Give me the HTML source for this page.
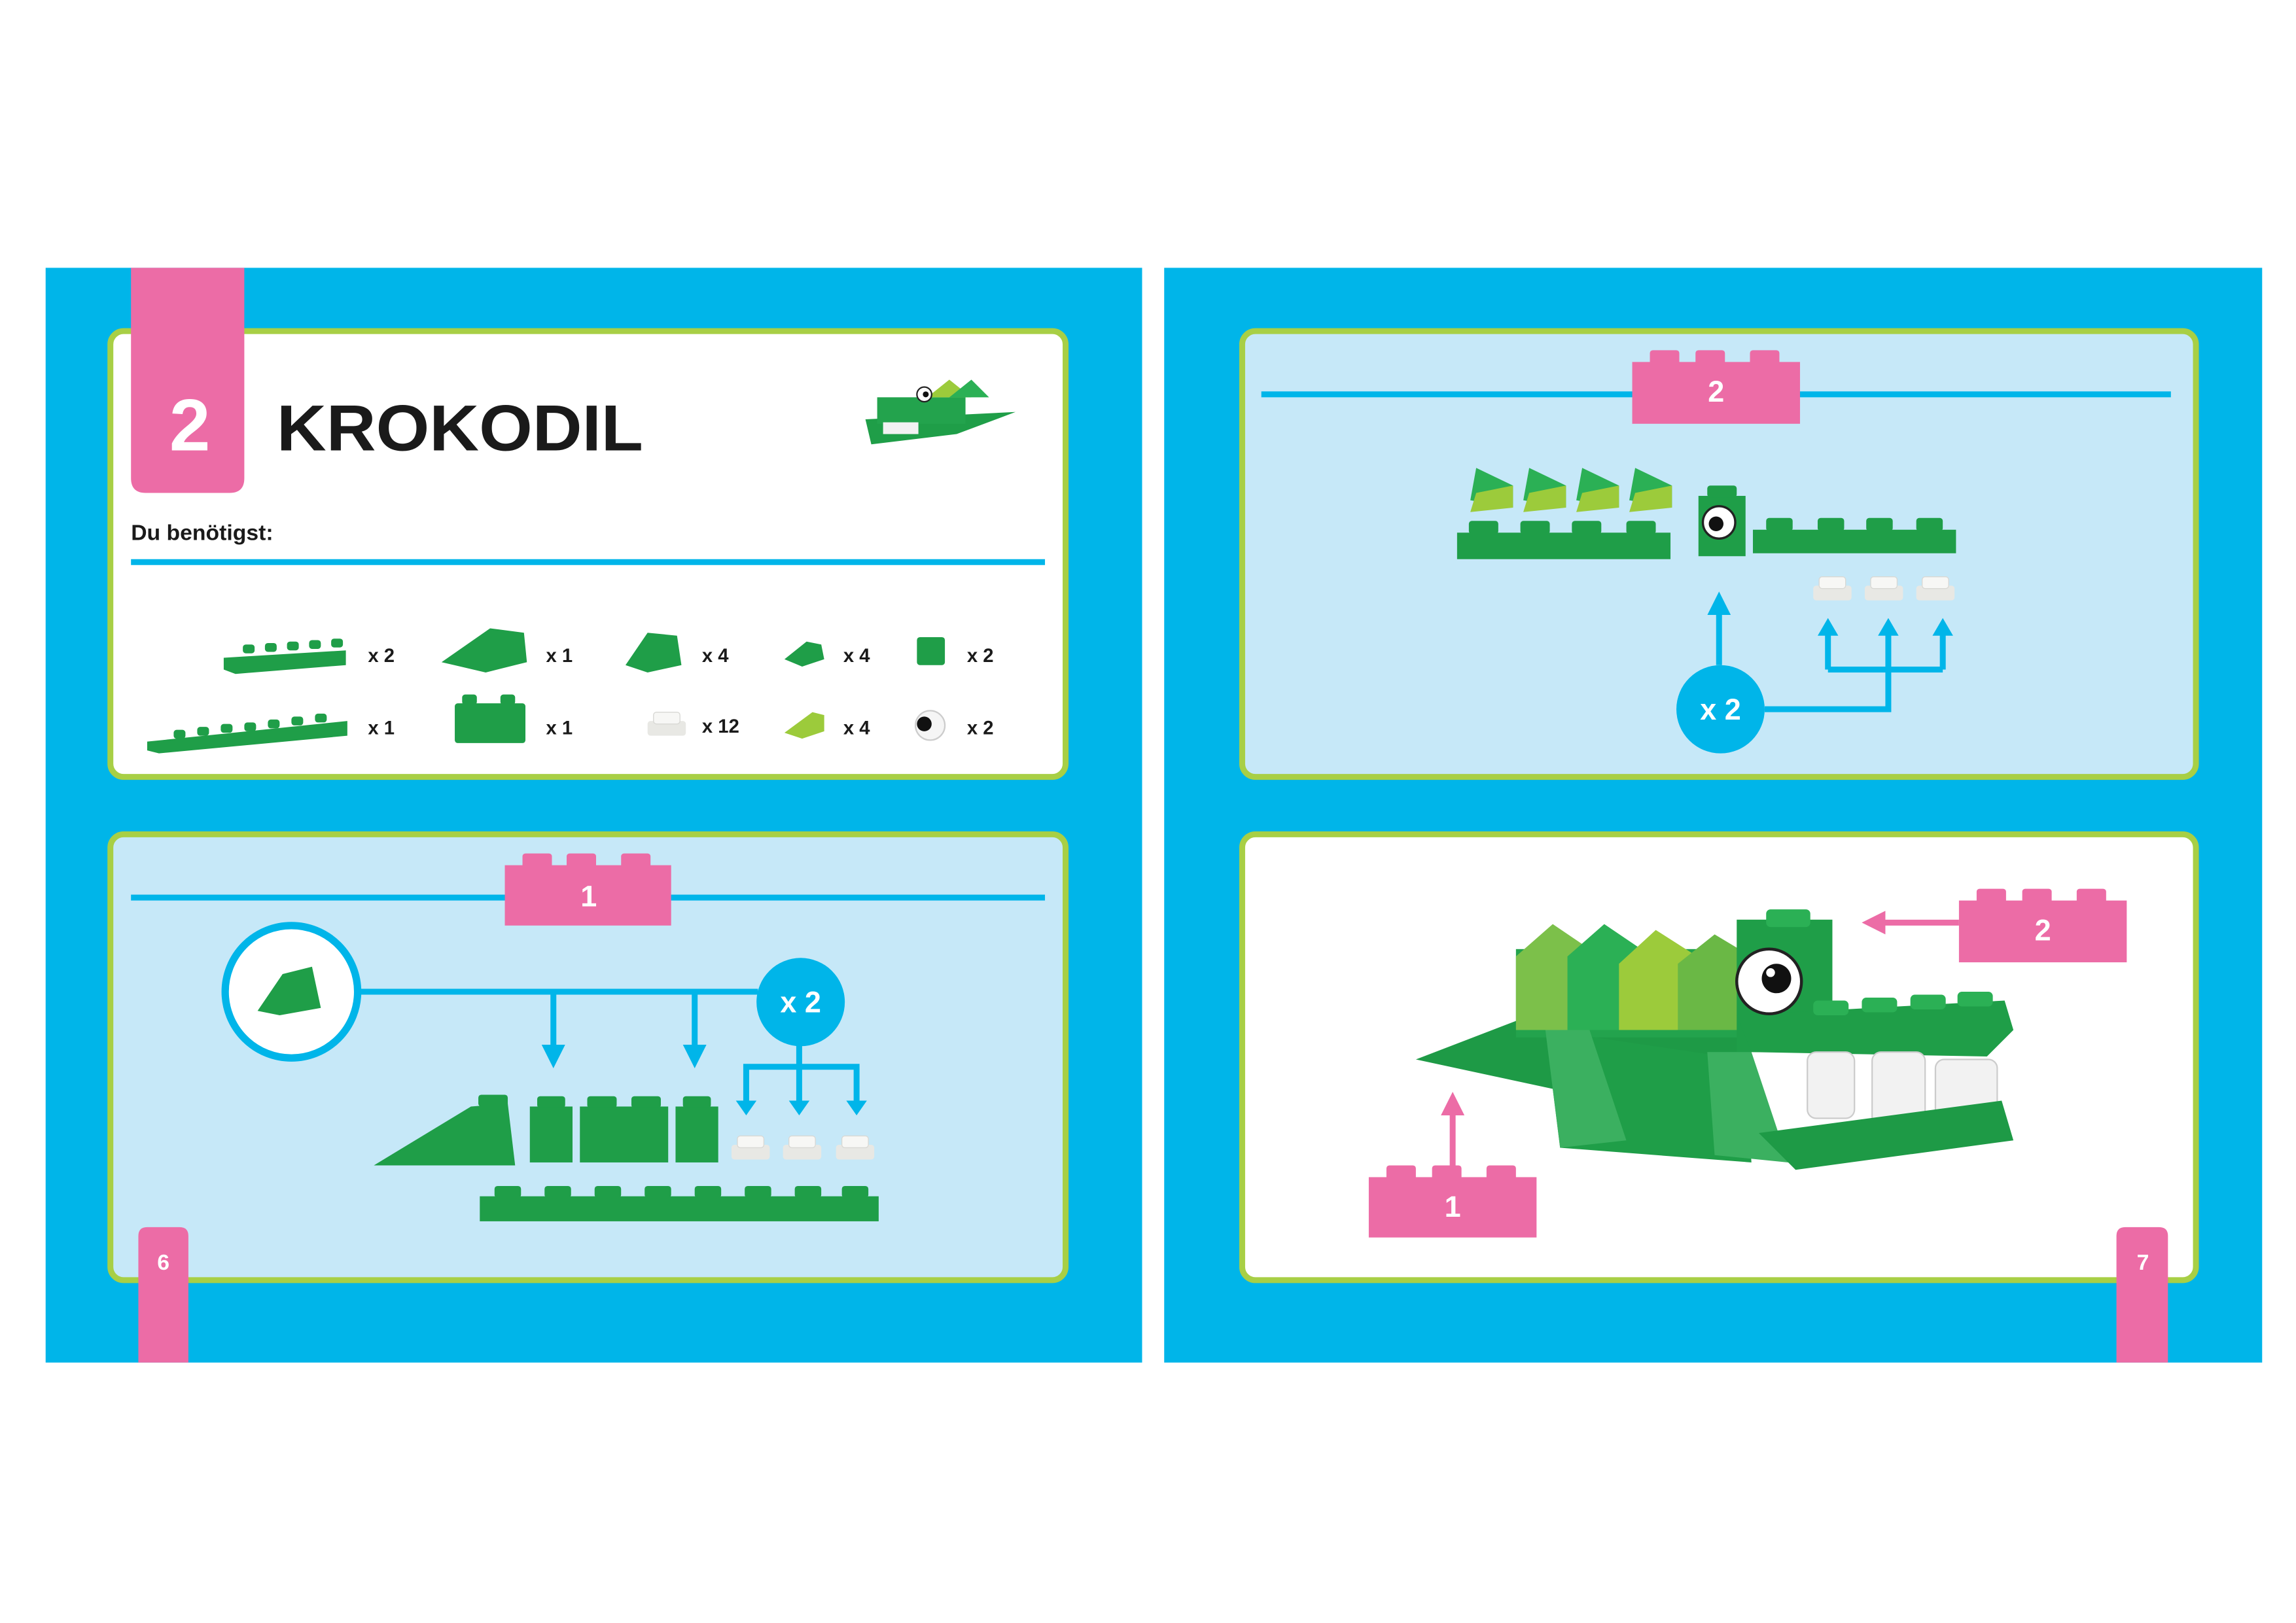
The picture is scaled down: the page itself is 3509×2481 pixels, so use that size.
<!DOCTYPE html>
<html><head><meta charset="utf-8"><style>
html,body{margin:0;padding:0;background:#fff;width:3509px;height:2481px;overflow:hidden}
svg{display:block}
text{font-family:"Liberation Sans",sans-serif;font-weight:bold}
</style></head><body>
<svg width="3509" height="2481" viewBox="0 0 1560 1103" preserveAspectRatio="none" xmlns="http://www.w3.org/2000/svg">
<defs>
<marker id="ab" viewBox="0 0 10 10" refX="5" refY="5" markerWidth="4" markerHeight="4" orient="auto"><path d="M0,0 L10,5 L0,10 z" fill="#00b5e9"/></marker>
<marker id="ap" viewBox="0 0 10 10" refX="5" refY="5" markerWidth="4" markerHeight="4" orient="auto"><path d="M0,0 L10,5 L0,10 z" fill="#ec6ca6"/></marker>
<g id="wp"><rect x="0" y="6" width="26" height="10" rx="2" fill="#e8e8e4"/><rect x="4" y="0" width="18" height="8" rx="2" fill="#f7f7f5" stroke="#d8d8d4" stroke-width="0.6"/></g>
</defs>
<rect width="1560" height="1103" fill="#fff"/>
<rect x="31" y="182" width="745" height="744" fill="#00b5e9"/>
<rect x="791" y="182" width="746" height="744" fill="#00b5e9"/>

<rect x="75" y="225" width="649" height="303" rx="9" fill="#fff" stroke="#a8cf45" stroke-width="4"/>
<rect x="75" y="567" width="649" height="303" rx="9" fill="#c6e8f8" stroke="#a8cf45" stroke-width="4"/>
<rect x="844" y="225" width="648" height="303" rx="9" fill="#c6e8f8" stroke="#a8cf45" stroke-width="4"/>
<rect x="844" y="567" width="648" height="303" rx="9" fill="#fff" stroke="#a8cf45" stroke-width="4"/>

<path d="M89,182 H166 V325 Q166,335 156,335 H99 Q89,335 89,325 Z" fill="#ec6ca6"/>
<text x="129" y="306" font-size="50" fill="#fff" text-anchor="middle" font-weight="normal">2</text>
<text x="188" y="306" font-size="44" fill="#1a1a1a" textLength="249" lengthAdjust="spacingAndGlyphs">KROKODIL</text>
<text x="89" y="367" font-size="15" fill="#1a1a1a">Du benötigst:</text>
<rect x="89" y="380" width="621" height="4" fill="#00b5e9"/>

<g>
<polygon points="588,285 690,280 650,295 592,302" fill="#1f9e48"/>
<rect x="596" y="270" width="60" height="18" fill="#23a34d"/>
<polygon points="630,270 645,258 660,270" fill="#9ccb3b"/><polygon points="645,270 660,258 672,270" fill="#2bb055"/>
<rect x="600" y="287" width="24" height="8" fill="#f2f2f2"/>
<circle cx="628" cy="268" r="5" fill="#fff" stroke="#222" stroke-width="1"/><circle cx="629" cy="268" r="2" fill="#111"/>
</g>

<g fill="#1f9e48">
<polygon points="152,447 235,442 235,452 160,458 152,455"/>
<rect x="165" y="438" width="8" height="6" rx="2"/><rect x="180" y="437" width="8" height="6" rx="2"/><rect x="195" y="436" width="8" height="6" rx="2"/><rect x="210" y="435" width="8" height="6" rx="2"/><rect x="225" y="434" width="8" height="6" rx="2"/>
<polygon points="300,450 333,427 356,430 358,450 330,457"/>
<polygon points="425,452 440,430 460,432 463,452 440,457"/>
<polygon points="533,448 548,436 558,438 560,448 545,453"/>
<rect x="623" y="433" width="19" height="19" rx="2"/>
<polygon points="100,504 236,490 236,500 108,512 100,510"/>
<rect x="309" y="478" width="48" height="27" rx="2"/>
<rect x="314" y="472" width="10" height="7" rx="2"/><rect x="340" y="472" width="10" height="7" rx="2"/>
<rect x="118" y="496" width="8" height="6" rx="2"/><rect x="134" y="494" width="8" height="6" rx="2"/><rect x="150" y="492" width="8" height="6" rx="2"/><rect x="166" y="491" width="8" height="6" rx="2"/><rect x="182" y="489" width="8" height="6" rx="2"/><rect x="198" y="487" width="8" height="6" rx="2"/><rect x="214" y="485" width="8" height="6" rx="2"/>
</g>
<use href="#wp" x="440" y="484"/>
<polygon points="533,498 552,484 560,486 560,497 545,502" fill="#9ccb3b"/>
<circle cx="632" cy="493" r="10" fill="#f5f5f5" stroke="#ccc"/><circle cx="628" cy="492" r="5" fill="#111"/>
<g font-size="13" fill="#1a1a1a">
<text x="250" y="450">x 2</text><text x="371" y="450">x 1</text><text x="477" y="450">x 4</text><text x="573" y="450">x 4</text><text x="657" y="450">x 2</text>
<text x="250" y="499">x 1</text><text x="371" y="499">x 1</text><text x="477" y="498">x 12</text><text x="573" y="499">x 4</text><text x="657" y="499">x 2</text>
</g>

<rect x="89" y="608" width="621" height="4" fill="#00b5e9"/>
<g fill="#ec6ca6"><rect x="343" y="588" width="113" height="41"/><rect x="355" y="580" width="20" height="10" rx="2"/><rect x="385" y="580" width="20" height="10" rx="2"/><rect x="422" y="580" width="20" height="10" rx="2"/></g>
<text x="400" y="616" font-size="20" fill="#fff" text-anchor="middle">1</text>
<line x1="244" y1="674" x2="515" y2="674" stroke="#00b5e9" stroke-width="4"/>
<circle cx="198" cy="674" r="45" fill="#fff" stroke="#00b5e9" stroke-width="5"/>
<polygon points="175,687 192,662 212,657 218,685 190,690" fill="#1f9e48"/>
<line x1="376" y1="674" x2="376" y2="718" stroke="#00b5e9" stroke-width="4" marker-end="url(#ab)"/>
<line x1="472" y1="674" x2="472" y2="718" stroke="#00b5e9" stroke-width="4" marker-end="url(#ab)"/>
<path d="M543,705 V725 M507,750 V725 H582 V750 M543,725 V750" fill="none" stroke="#00b5e9" stroke-width="4"/>
<path d="M500,748 H514 L507,758 Z M536,748 H550 L543,758 Z M575,748 H589 L582,758 Z" fill="#00b5e9"/>
<circle cx="544" cy="681" r="30" fill="#00b5e9"/>
<text x="544" y="688" font-size="20" fill="#fff" text-anchor="middle">x 2</text>
<g fill="#1f9e48">
<polygon points="254,792 320,752 345,750 350,792"/>
<rect x="325" y="744" width="20" height="8" rx="2"/>
<rect x="360" y="752" width="29" height="38"/><rect x="365" y="745" width="19" height="8" rx="2"/>
<rect x="394" y="752" width="60" height="38"/><rect x="399" y="745" width="20" height="8" rx="2"/><rect x="429" y="745" width="20" height="8" rx="2"/>
<rect x="459" y="752" width="29" height="38"/><rect x="464" y="745" width="19" height="8" rx="2"/>
<rect x="326" y="813" width="271" height="17"/>
<rect x="336" y="806" width="18" height="8" rx="2"/><rect x="370" y="806" width="18" height="8" rx="2"/><rect x="404" y="806" width="18" height="8" rx="2"/><rect x="438" y="806" width="18" height="8" rx="2"/><rect x="472" y="806" width="18" height="8" rx="2"/><rect x="506" y="806" width="18" height="8" rx="2"/><rect x="540" y="806" width="18" height="8" rx="2"/><rect x="572" y="806" width="18" height="8" rx="2"/>
</g>
<use href="#wp" x="497" y="772"/><use href="#wp" x="532" y="772"/><use href="#wp" x="568" y="772"/>

<rect x="857" y="266" width="618" height="4" fill="#00b5e9"/>
<g fill="#ec6ca6"><rect x="1109" y="246" width="114" height="42"/><rect x="1121" y="238" width="20" height="10" rx="2"/><rect x="1152" y="238" width="20" height="10" rx="2"/><rect x="1189" y="238" width="20" height="10" rx="2"/></g>
<text x="1166" y="273" font-size="20" fill="#fff" text-anchor="middle">2</text>
<g>
<polygon points="999,340 1003,318 1028,330 1028,345" fill="#2bb055"/><polygon points="1003,335 1028,330 1028,345 999,348" fill="#9ccb3b"/>
<polygon points="1035,340 1039,318 1064,330 1064,345" fill="#2bb055"/><polygon points="1039,335 1064,330 1064,345 1035,348" fill="#9ccb3b"/>
<polygon points="1071,340 1075,318 1100,330 1100,345" fill="#2bb055"/><polygon points="1075,335 1100,330 1100,345 1071,348" fill="#9ccb3b"/>
<polygon points="1107,340 1111,318 1136,330 1136,345" fill="#2bb055"/><polygon points="1111,335 1136,330 1136,345 1107,348" fill="#9ccb3b"/>
</g>
<g fill="#1f9e48">
<rect x="990" y="362" width="145" height="18"/>
<rect x="998" y="354" width="20" height="9" rx="2"/><rect x="1033" y="354" width="20" height="9" rx="2"/><rect x="1068" y="354" width="20" height="9" rx="2"/><rect x="1105" y="354" width="20" height="9" rx="2"/>
<rect x="1154" y="337" width="32" height="41"/><rect x="1160" y="330" width="20" height="8" rx="2"/>
<rect x="1191" y="360" width="138" height="16"/>
<rect x="1200" y="352" width="18" height="9" rx="2"/><rect x="1235" y="352" width="18" height="9" rx="2"/><rect x="1268" y="352" width="18" height="9" rx="2"/><rect x="1302" y="352" width="18" height="9" rx="2"/>
</g>
<circle cx="1168" cy="355" r="11" fill="#fff" stroke="#222" stroke-width="1.5"/><circle cx="1166" cy="356" r="5" fill="#111"/>
<use href="#wp" x="1232" y="392"/><use href="#wp" x="1267" y="392"/><use href="#wp" x="1302" y="392"/>
<line x1="1168" y1="452" x2="1168" y2="410" stroke="#00b5e9" stroke-width="4" marker-end="url(#ab)"/>
<path d="M1199,482 H1283 V455 M1242,455 H1320 M1242,430 V455 M1283,430 V455 M1320,430 V455" fill="none" stroke="#00b5e9" stroke-width="4"/>
<path d="M1235,432 H1249 L1242,420 Z M1276,432 H1290 L1283,420 Z M1313,432 H1327 L1320,420 Z" fill="#00b5e9"/>
<circle cx="1169" cy="482" r="30" fill="#00b5e9"/>
<text x="1169" y="489" font-size="20" fill="#fff" text-anchor="middle">x 2</text>

<g>
<polygon points="962,720 1040,690 1190,690 1190,750 1055,740" fill="#1e9a46"/>
<rect x="1030" y="645" width="160" height="60" fill="#23a34d"/>
<polygon points="1030,650 1055,628 1080,645 1080,700 1030,700" fill="#7cc04a"/>
<polygon points="1065,650 1090,628 1115,645 1115,700 1065,700" fill="#2bb055"/>
<polygon points="1100,655 1125,632 1150,648 1150,700 1100,700" fill="#9ccb3b"/>
<polygon points="1140,655 1165,635 1190,650 1190,700 1140,700" fill="#6ab845"/>
<rect x="1180" y="625" width="65" height="90" fill="#1f9e48"/>
<rect x="1200" y="618" width="30" height="12" rx="3" fill="#2bb055"/>
<polygon points="1180,690 1362,680 1368,700 1350,718 1190,715" fill="#1f9e48"/>
<g fill="#2bb055"><rect x="1232" y="680" width="24" height="10" rx="3"/><rect x="1265" y="678" width="24" height="10" rx="3"/><rect x="1298" y="676" width="24" height="10" rx="3"/><rect x="1330" y="674" width="24" height="10" rx="3"/></g>
<g fill="#f2f2f2" stroke="#ccc" stroke-width="1"><rect x="1228" y="715" width="32" height="45" rx="6"/><rect x="1272" y="715" width="36" height="50" rx="6"/><rect x="1315" y="720" width="42" height="48" rx="6"/></g>
<polygon points="1050,700 1185,720 1190,790 1060,780" fill="#1f9e48"/>
<polygon points="1050,700 1080,700 1105,775 1060,780" fill="#3bb060"/>
<polygon points="1160,715 1190,715 1215,790 1165,785" fill="#3bb060"/>
<polygon points="1195,770 1360,748 1368,775 1220,795" fill="#1e9a46"/>
<circle cx="1202" cy="667" r="22" fill="#fff" stroke="#222" stroke-width="2"/><circle cx="1207" cy="665" r="10" fill="#111"/><circle cx="1203" cy="661" r="3" fill="#fff"/>
</g>
<g fill="#ec6ca6"><rect x="1331" y="612" width="114" height="42"/><rect x="1343" y="604" width="20" height="10" rx="2"/><rect x="1374" y="604" width="20" height="10" rx="2"/><rect x="1411" y="604" width="20" height="10" rx="2"/></g>
<text x="1388" y="639" font-size="20" fill="#fff" text-anchor="middle">2</text>
<line x1="1331" y1="627" x2="1273" y2="627" stroke="#ec6ca6" stroke-width="4" marker-end="url(#ap)"/>
<g fill="#ec6ca6"><rect x="930" y="800" width="114" height="41"/><rect x="942" y="792" width="20" height="10" rx="2"/><rect x="973" y="792" width="20" height="10" rx="2"/><rect x="1010" y="792" width="20" height="10" rx="2"/></g>
<text x="987" y="827" font-size="20" fill="#fff" text-anchor="middle">1</text>
<line x1="987" y1="792" x2="987" y2="750" stroke="#ec6ca6" stroke-width="4" marker-end="url(#ap)"/>

<path d="M94,926 V840 Q94,834 100,834 H122 Q128,834 128,840 V926 Z" fill="#ec6ca6"/>
<text x="111" y="863" font-size="15" fill="#fff" text-anchor="middle">6</text>
<path d="M1438,926 V840 Q1438,834 1444,834 H1467 Q1473,834 1473,840 V926 Z" fill="#ec6ca6"/>
<text x="1456" y="863" font-size="15" fill="#fff" text-anchor="middle">7</text>
</svg>
</body></html>
